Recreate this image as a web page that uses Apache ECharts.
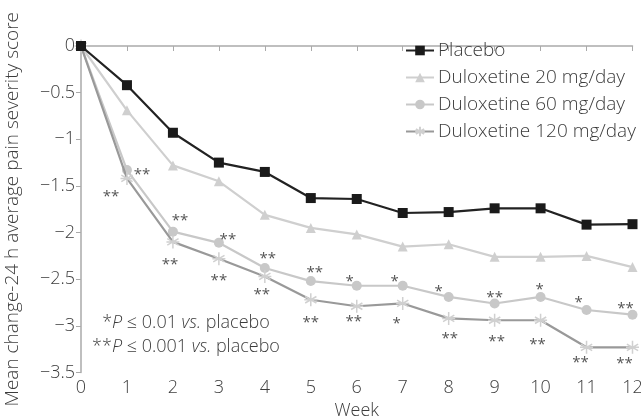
<!DOCTYPE html>
<html><head><meta charset="utf-8">
<script src="https://cdn.jsdelivr.net/npm/echarts@6/dist/echarts.min.js"></script>
<style>html,body{margin:0;padding:0;background:#fff}#c{width:641px;height:420px}</style>
</head><body><div id="c"></div>
<script>
var weeks = ['0','1','2','3','4','5','6','7','8','9','10','11','12'];
var seriesNames = ['Placebo','Duloxetine 20 mg/day','Duloxetine 60 mg/day','Duloxetine 120 mg/day'];
var placebo = [0,-0.42,-0.93,-1.25,-1.35,-1.63,-1.64,-1.79,-1.78,-1.74,-1.74,-1.915,-1.91];
var dlx20 = [0,-0.69,-1.28,-1.45,-1.81,-1.95,-2.02,-2.15,-2.125,-2.26,-2.26,-2.25,-2.37];
var dlx60 = [0,-1.33,-1.99,-2.11,-2.38,-2.52,-2.57,-2.57,-2.69,-2.76,-2.69,-2.83,-2.88];
var dlx120 = [0,-1.42,-2.10,-2.28,-2.47,-2.72,-2.79,-2.76,-2.92,-2.94,-2.94,-3.23,-3.23];
var sig60 = ['','**','**','**','**','**','*','*','*','**','*','*','**'];
var sig120 = ['','**','**','**','**','**','**','*','**','**','**','**','**'];

// label placement (style only)
var off60 = [[0,0],[15,5],[7,-11],[9,-3],[3,-9],[4,-8],[-7,-4],[-8,-4],[-10,-5],[0,-6],[-1,-7],[-8,-7],[-7,-6]];
var off120 = [[0,0],[-16,18],[-3,23],[0,22],[-3,18],[0,23],[-3,15],[-6,20],[1,20],[2,21],[-3,24],[-6,15],[-8,16]];

var FONT = '"Open Sans", "Noto Sans", sans-serif';
var TXT = '#3c3c3c';
function withLabels(vals, sig, off){
  return vals.map(function(v,i){
    return {value:v, label:{show: !!sig[i], formatter: sig[i], position:'inside', offset: off[i]}};
  });
}
var chart = echarts.init(document.getElementById('c'), null, {renderer:'canvas'});
var asterisk = 'path://M5,0 L5,10 M0.67,2.5 L9.33,7.5 M0.67,7.5 L9.33,2.5 M0,5 L10,5';
var sigLabel = {fontFamily: FONT, fontSize: 15, color: '#555'};
chart.setOption({
  animation:false,
  grid:{left:81, right:8.5, top:46, bottom:47.5, outerBoundsMode:'none', containLabel:false},
  legend:{
    orient:'vertical', left:400, top:36, itemGap:8, itemWidth:28, itemHeight:12,
    textStyle:{fontFamily:FONT, fontSize:19, fontWeight:300, color:TXT, padding:[0,0,0,-1]},
    data: seriesNames
  },
  xAxis:{
    type:'category', data:weeks, boundaryGap:false,
    name:'Week', nameLocation:'middle', nameGap:29,
    nameTextStyle:{fontFamily:FONT, fontSize:18, fontWeight:300, color:TXT},
    axisLine:{lineStyle:{color:'#aaa', width:1.5}},
    axisTick:{show:true, length:5, lineStyle:{color:'#aaa'}, alignWithLabel:true},
    axisLabel:{fontFamily:FONT, fontSize:18, fontWeight:300, color:TXT, margin:6}
  },
  yAxis:{
    type:'value', min:-3.5, max:0, interval:0.5,
    name:'Mean change-24 h average pain severity score', nameLocation:'middle', nameGap:59,
    nameTextStyle:{fontFamily:FONT, fontSize:19, fontWeight:300, color:TXT},
    axisLine:{show:true, lineStyle:{color:'#aaa', width:1.5}},
    axisTick:{show:true, length:5, lineStyle:{color:'#aaa'}},
    splitLine:{show:false},
    axisLabel:{fontFamily:FONT, fontSize:18, fontWeight:300, color:TXT, margin:6,
      formatter:function(v){return String(v).replace('-', '\u2212');}}
  },
  series:[
    {name:seriesNames[0], type:'line', data:placebo, symbol:'rect', symbolSize:10,
     lineStyle:{color:'#222', width:2.2}, itemStyle:{color:'#1a1a1a'}, z:5},
    {name:seriesNames[1], type:'line', data:dlx20, symbol:'triangle', symbolSize:10,
     lineStyle:{color:'#cfcfcf', width:2.2}, itemStyle:{color:'#cfcfcf'}, z:2},
    {name:seriesNames[2], type:'line', data:withLabels(dlx60, sig60, off60), symbol:'circle', symbolSize:10,
     lineStyle:{color:'#c8c8c8', width:2.2}, itemStyle:{color:'#c8c8c8'}, label:sigLabel, z:3},
    {name:seriesNames[3], type:'line', data:withLabels(dlx120, sig120, off120), symbol:asterisk, symbolSize:13,
     lineStyle:{color:'#999', width:2.2}, itemStyle:{color:'#d0d0d0', borderColor:'#d0d0d0', borderWidth:1.5},
     label:sigLabel, z:4}
  ],
  graphic:[
    {type:'text', x:186, y:323, style:{
      text:'{n|*}{i|P}{n| \u2264 0.01 }{i|vs.}{n| placebo}', align:'center', verticalAlign:'middle',
      rich:{n:{fontFamily:FONT, fontSize:18, fontWeight:300, fill:TXT}, i:{fontFamily:FONT, fontSize:18, fontWeight:300, fontStyle:'italic', fill:TXT}}
    }},
    {type:'text', x:186, y:347, style:{
      text:'{n|**}{i|P}{n| \u2264 0.001 }{i|vs.}{n| placebo}', align:'center', verticalAlign:'middle',
      rich:{n:{fontFamily:FONT, fontSize:18, fontWeight:300, fill:TXT}, i:{fontFamily:FONT, fontSize:18, fontWeight:300, fontStyle:'italic', fill:TXT}}
    }}
  ]
});
</script></body></html>
